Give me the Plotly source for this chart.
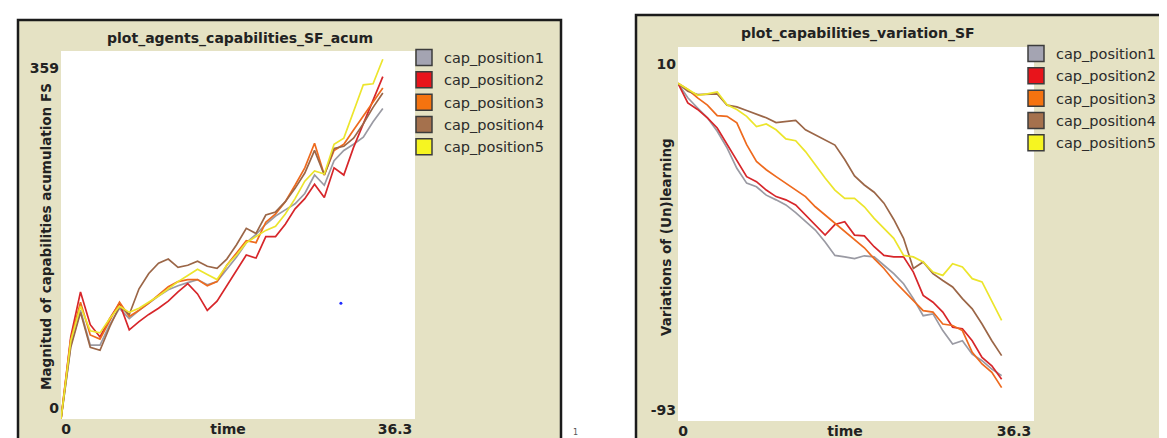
import plotly.graph_objects as go

W, H = 1167, 438

# ---------------- data ----------------
time = list(range(34))
series_names = ["cap_position1", "cap_position2", "cap_position3", "cap_position4", "cap_position5"]
series_colors = ["#9a9aa3", "#d7262a", "#ee6a1e", "#9b6647", "#ece52c"]
swatch_colors = ["#a4a4b2", "#e8141b", "#f5730f", "#a5714d", "#f6f521"]

acum_cap1 = [0, 72, 106, 72, 72, 92, 108, 98, 106, 113, 120, 126, 130, 133, 136, 131, 134,
             146, 158, 172, 180, 190, 198, 204, 210, 220, 238, 228, 252, 262, 268, 275, 290, 303]
acum_cap2 = [0, 80, 124, 92, 80, 98, 113, 87, 95, 102, 108, 115, 124, 132, 122, 106, 115,
             130, 146, 160, 157, 178, 178, 190, 205, 215, 229, 216, 245, 238, 265, 288, 310, 334]
acum_cap3 = [0, 78, 114, 82, 78, 96, 114, 100, 106, 113, 121, 129, 134, 136, 136, 130, 134,
             150, 162, 174, 172, 192, 200, 212, 228, 245, 269, 238, 262, 268, 282, 296, 310, 323]
acum_cap4 = [0, 70, 104, 70, 67, 90, 110, 102, 127, 142, 152, 156, 148, 150, 154, 149, 147,
             156, 170, 186, 181, 199, 202, 212, 225, 240, 262, 238, 264, 266, 274, 288, 304, 318]
acum_cap5 = [0, 76, 110, 86, 84, 98, 110, 104, 108, 114, 120, 127, 134, 140, 146, 141, 136,
             150, 160, 172, 178, 184, 188, 200, 215, 232, 242, 239, 268, 274, 300, 326, 327, 351]

var_cap1 = [0, -4, -6.8, -9.5, -13.2, -17.8, -23.4, -27.5, -28.5, -30.8, -32.1, -33.5, -35.6,
            -38.1, -40.4, -43.7, -47.4, -47.8, -48.3, -47.5, -47.8, -50.1, -52.4, -55.2, -59.3,
            -64, -63.5, -68.1, -71.8, -70.9, -74.6, -76.4, -78.7, -80.5]
var_cap2 = [0, -5.4, -7.2, -9.5, -12.3, -16.9, -21.5, -25.7, -27.1, -29.4, -31.2, -32.1, -33.5,
            -36.3, -39.1, -41.8, -38.9, -38.1, -41.8, -42, -45, -47.4, -47.8, -47.8, -52,
            -58.4, -60.3, -63, -67.2, -67.6, -70.9, -75.5, -77.8, -81.5]
var_cap3 = [0, -1.7, -4, -6, -8.9, -9.1, -10.9, -16.9, -21.5, -23.8, -25.7, -27.5, -29.2,
            -31.2, -34, -36.3, -38.6, -40.9, -43.2, -45.3, -48.3, -51, -54.3, -57, -59.8,
            -62.6, -63, -66.3, -66.7, -68.1, -74.1, -77.3, -79.6, -83.8]
var_cap4 = [0, -2.2, -3.1, -2.9, -2.9, -6, -6.5, -7.5, -8.5, -9.5, -10.8, -10.5, -10.2,
            -12.8, -14.2, -15.6, -17, -21, -25.5, -28, -30, -33, -37.5, -42.7, -51,
            -49.2, -52.4, -54.3, -56.1, -59.3, -62.1, -66.3, -70.9, -75]
var_cap5 = [0, -1.7, -3.3, -2.9, -2.4, -5.9, -7.2, -9.1, -11.9, -11.2, -12.8, -15.3, -15.8,
            -18.8, -22.5, -26.1, -29.4, -31.7, -31.7, -34, -37.2, -40, -42.7, -47.4, -47.8,
            -49.2, -52, -52.9, -49.7, -50.6, -53.8, -54.7, -59.8, -65.3]

stray_point_t = [28.7]
stray_point_v = [113]

x_range = [0, 36.3]
acum_range = [0, 359]
var_range = [-93, 10]
x_ticktext = ["0", "time", "36.3"]

titles = ["plot_agents_capabilities_SF_acum", "plot_capabilities_variation_SF"]
y_titles = ["Magnitud of capabilities acumulation FS", "Variations of (Un)learning"]

# ---------------- layout geometry (pixels) ----------------
left_plot = dict(x0=53, x1=407, y0=43, y1=411)
right_plot = dict(x0=670, x1=1026, y0=39, y1=413)
left_panel = dict(x0=10, x1=553, y0=12, y1=435)
right_panel = dict(x0=628, x1=1175, y0=7, y1=435)

PANEL_BG = "#e5e2c4"
TEXT = "#222222"
FONT = "DejaVu Sans"


def px(x):
    return x / W


def py(y):
    return 1 - y / H


def x_ticks(plot, rng):
    span = plot["x1"] - plot["x0"]
    f = (rng[1] - rng[0]) / span
    return [rng[0] + 5 * f, rng[0] + 167 * f, rng[1] - 20 * f]


def y_ticks(plot, rng):
    span = plot["y1"] - plot["y0"]
    f = (rng[1] - rng[0]) / span
    return [rng[0] + 10.5 * f, rng[1] - 17 * f]


fig = go.Figure()

acum = [acum_cap1, acum_cap2, acum_cap3, acum_cap4, acum_cap5]
var = [var_cap1, var_cap2, var_cap3, var_cap4, var_cap5]

for name, col, ys in zip(series_names, series_colors, acum):
    fig.add_trace(go.Scatter(x=time, y=ys, mode="lines", name=name,
                             line=dict(color=col, width=1.7), showlegend=False,
                             xaxis="x", yaxis="y"))
fig.add_trace(go.Scatter(x=stray_point_t, y=stray_point_v, mode="markers",
                         marker=dict(color="#1f2cff", size=3), showlegend=False,
                         xaxis="x", yaxis="y"))
for name, col, ys in zip(series_names, series_colors, var):
    fig.add_trace(go.Scatter(x=time, y=ys, mode="lines", name=name,
                             line=dict(color=col, width=1.7), showlegend=False,
                             xaxis="x2", yaxis="y2"))

# legend entries (square swatches like NetLogo)
for leg, ax in (("legend", ("x", "y")), ("legend2", ("x2", "y2"))):
    for i, (name, sc) in enumerate(zip(series_names, swatch_colors)):
        fig.add_trace(go.Scatter(x=[None], y=[None], mode="markers", name=name,
                                 marker=dict(symbol="square", size=16, color=sc,
                                             line=dict(color="#3c3c3c", width=1.5)),
                                 legend=leg, legendgroup=f"{leg}{i}", showlegend=True,
                                 xaxis=ax[0], yaxis=ax[1]))

tick_font = dict(family=FONT, size=14, color=TEXT, weight="bold")


def xaxis_cfg(plot, anchor):
    return dict(domain=[px(plot["x0"]), px(plot["x1"])], range=x_range, anchor=anchor,
                showgrid=False, zeroline=False, showline=False, ticks="",
                tickmode="array", tickvals=x_ticks(plot, x_range), ticktext=x_ticktext,
                tickfont=tick_font, fixedrange=True)


def yaxis_cfg(plot, rng, anchor):
    return dict(domain=[py(plot["y1"]), py(plot["y0"])], range=rng, anchor=anchor,
                showgrid=False, zeroline=False, showline=False, ticks="",
                tickmode="array", tickvals=y_ticks(plot, rng),
                ticktext=[f"{rng[0]:g}", f"{rng[1]:g}"],
                tickfont=tick_font, ticklabelstandoff=1, fixedrange=True)


shapes = []
for panel in (left_panel, right_panel):
    shapes.append(dict(type="rect", xref="paper", yref="paper", layer="below",
                       x0=px(panel["x0"]), x1=px(panel["x1"]),
                       y0=py(panel["y1"]), y1=py(panel["y0"]),
                       fillcolor=PANEL_BG, line=dict(color="#1b1b1b", width=2.5)))
for xr, yr in (("x domain", "y domain"), ("x2 domain", "y2 domain")):
    shapes.append(dict(type="rect", xref=xr, yref=yr, layer="below",
                       x0=0, x1=1, y0=0, y1=1, fillcolor="white", line=dict(width=0)))

annotations = []
title_font = dict(family=FONT, size=14, color=TEXT, weight="bold")
for t, plot, ty in ((titles[0], left_plot, 30), (titles[1], right_plot, 26)):
    annotations.append(dict(text=t, xref="paper", yref="paper",
                            x=px((plot["x0"] + plot["x1"]) / 2 + 2), y=py(ty),
                            showarrow=False, font=title_font,
                            xanchor="center", yanchor="middle"))
for t, xc in ((y_titles[0], 38), (y_titles[1], 658)):
    annotations.append(dict(text=t, xref="paper", yref="paper", x=px(xc), y=py(229),
                            textangle=-90, showarrow=False,
                            font=dict(family=FONT, size=13.5, color=TEXT, weight="bold"),
                            xanchor="center", yanchor="middle"))
annotations.append(dict(text="1", xref="paper", yref="paper", x=px(567), y=py(431),
                        showarrow=False, font=dict(family=FONT, size=8, color="#555555")))

legend_font = dict(family=FONT, size=14.5, color="#2b2b2b")
fig.update_layout(
    width=W, height=H, autosize=False,
    margin=dict(l=0, r=0, t=0, b=0, pad=0),
    paper_bgcolor="white", plot_bgcolor="white",
    xaxis=xaxis_cfg(left_plot, "y"),
    yaxis=yaxis_cfg(left_plot, acum_range, "x"),
    xaxis2=xaxis_cfg(right_plot, "y2"),
    yaxis2=yaxis_cfg(right_plot, var_range, "x2"),
    shapes=shapes,
    annotations=annotations,
    legend=dict(x=px(396), y=py(33.5), xanchor="left", yanchor="top",
                bgcolor="rgba(0,0,0,0)", font=legend_font, tracegroupgap=0.5,
                traceorder="grouped", itemclick=False),
    legend2=dict(x=px(1008), y=py(29.5), xanchor="left", yanchor="top",
                 bgcolor="rgba(0,0,0,0)", font=legend_font, tracegroupgap=0.5,
                 traceorder="grouped", itemclick=False),
)

fig.write_html("out.html")
